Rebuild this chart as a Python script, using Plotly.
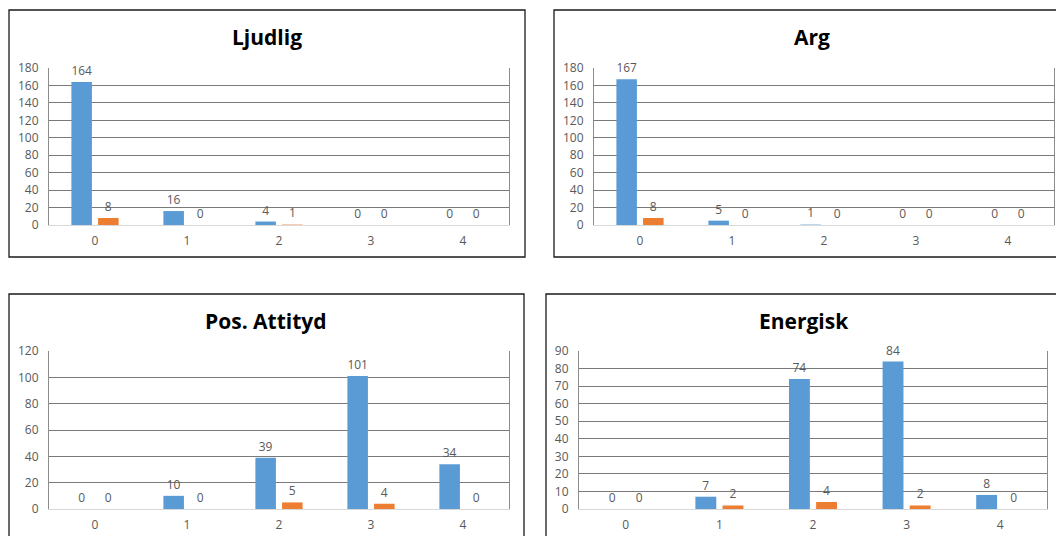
import plotly.graph_objects as go
from plotly.subplots import make_subplots

# Data
categories = ["0", "1", "2", "3", "4"]
titles = ["Ljudlig", "Arg", "Pos. Attityd", "Energisk"]

ljudlig_a = [164, 16, 4, 0, 0]
ljudlig_b = [8, 0, 1, 0, 0]
arg_a = [167, 5, 1, 0, 0]
arg_b = [8, 0, 0, 0, 0]
attityd_a = [0, 10, 39, 101, 34]
attityd_b = [0, 0, 5, 4, 0]
energisk_a = [0, 7, 74, 84, 8]
energisk_b = [0, 2, 4, 2, 0]

y_max = [180, 180, 120, 90]
y_step = [20, 20, 20, 10]

W, H = 1056, 536
BLUE, ORANGE = "#5B9BD5", "#ED7D31"
LIGHT_BLUE, LIGHT_ORANGE = "#BDD7EE", "#F8CBAD"
GRAY = "#595959"

# pixel boxes: (left, top, right, bottom) for plot areas and frames
plot_px = [(49, 68, 509, 225), (594, 68, 1054, 225),
           (49, 351, 509, 509), (579, 351, 1047, 509)]
frame_px = [(9, 10, 525, 257), (554, 10, 1070, 257),
            (9, 294, 524, 550), (546, 294, 1070, 550)]
title_px = [(267, 37), (812, 37), (266, 321), (804, 321)]


def px(x):
    return x / W


def py(y):
    return 1 - y / H


series = [(ljudlig_a, ljudlig_b), (arg_a, arg_b),
          (attityd_a, attityd_b), (energisk_a, energisk_b)]

# a couple of bars are drawn in a pale tint in the original
blue_cols = [[BLUE] * 5 for _ in range(4)]
orange_cols = [[ORANGE] * 5 for _ in range(4)]
orange_cols[0][2] = LIGHT_ORANGE
blue_cols[1][2] = LIGHT_BLUE

fig = make_subplots(rows=2, cols=2)
for i, (a, b) in enumerate(series):
    r, c = i // 2 + 1, i % 2 + 1
    for vals, cols in ((a, blue_cols[i]), (b, orange_cols[i])):
        fig.add_trace(go.Bar(
            x=categories, y=vals, marker_color=cols, marker_line_width=0,
            text=[str(v) for v in vals], textposition="outside",
            textfont=dict(color=GRAY, size=12, family="Open Sans"),
            cliponaxis=False, showlegend=False,
        ), row=r, col=c)

for i in range(4):
    l, t, rr, bt = plot_px[i]
    n = "" if i == 0 else str(i + 1)
    fig.layout["xaxis" + n].update(
        domain=[px(l), px(rr)], showgrid=False, showline=True,
        linecolor="#d9d9d9", linewidth=1, ticks="", ticklabelstandoff=5,
        automargin=False,
        tickfont=dict(color=GRAY, size=12, family="Open Sans"))
    fig.layout["yaxis" + n].update(
        domain=[py(bt), py(t)], range=[0, y_max[i]], dtick=y_step[i],
        showgrid=True, gridcolor="#7a7a7a", gridwidth=1, zeroline=False,
        showline=True, linecolor="#8c8c8c", mirror=True, ticks="",
        ticklabelstandoff=7, automargin=False,
        tickfont=dict(color=GRAY, size=12, family="Open Sans"))
    fl, ft, fr, fb = frame_px[i]
    fig.add_shape(type="rect", xref="paper", yref="paper",
                  x0=px(fl), x1=px(fr), y0=py(fb), y1=py(ft),
                  line=dict(color="#1a1a1a", width=1.3))
    tx, ty = title_px[i]
    fig.add_annotation(text="<b>" + titles[i] + "</b>", xref="paper",
                       yref="paper", x=px(tx), y=py(ty), showarrow=False,
                       xanchor="center", yanchor="middle",
                       font=dict(size=21, color="#000000", family="Open Sans"))

fig.update_layout(
    width=W, height=H,
    margin=dict(l=0, r=0, t=0, b=0, pad=0, autoexpand=False),
    paper_bgcolor="white", plot_bgcolor="white",
    barmode="group", bargap=0.42, bargroupgap=0.23,
)

fig.write_html(
    "out.html",
    post_script="document.body.style.margin='0';"
                "document.documentElement.style.overflow='hidden';",
    config={"displayModeBar": False},
)
